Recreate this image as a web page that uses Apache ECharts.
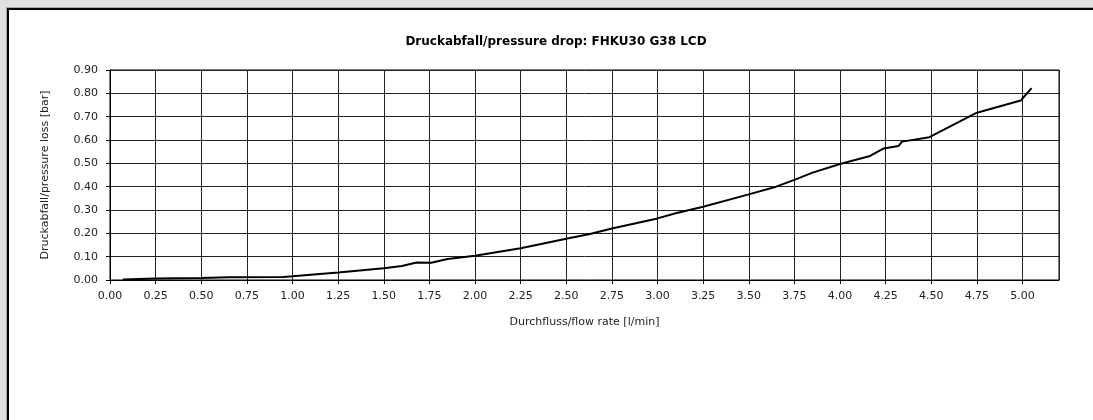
<!DOCTYPE html>
<html>
<head>
<meta charset="utf-8">
<script src="https://cdn.jsdelivr.net/npm/echarts@6/dist/echarts.min.js"></script>
<style>
  html, body { margin: 0; padding: 0; width: 1093px; height: 420px; overflow: hidden; background: #e0e0e0; }
  #frame { position: absolute; left: 7px; top: 8px; width: 1100px; height: 430px; background: #fff;
           border-left: 2px solid #000; border-top: 2px solid #000; box-shadow: -1px -1px 0 #a8a8a8; }
  #chart { position: absolute; left: 0; top: 0; width: 1093px; height: 420px; }
</style>
</head>
<body>
<div id="frame"></div>
<div id="chart"></div>
<script>
const titleText = 'Druckabfall/pressure drop: FHKU30 G38 LCD';
const xAxisName = 'Durchfluss/flow rate [l/min]';
const yAxisName = 'Druckabfall/pressure loss [bar]';

const flowRate = [0.07, 0.25, 0.5, 0.65, 0.95, 1.0, 1.25, 1.5, 1.6, 1.68, 1.76, 1.85, 2.0, 2.25, 2.5, 2.63, 2.75, 3.0, 3.1, 3.25, 3.5, 3.65, 3.75, 3.85, 4.0, 4.16, 4.24, 4.32, 4.34, 4.49, 4.75, 4.99, 5.05];
const pressureLoss = [0.002, 0.006, 0.009, 0.012, 0.013, 0.016, 0.032, 0.050, 0.060, 0.075, 0.074, 0.090, 0.104, 0.136, 0.177, 0.197, 0.221, 0.264, 0.286, 0.314, 0.367, 0.400, 0.429, 0.460, 0.497, 0.530, 0.564, 0.574, 0.593, 0.612, 0.717, 0.769, 0.822];

const seriesData = flowRate.map((x, i) => [x, pressureLoss[i]]);
const fontFam = '"DejaVu Sans", sans-serif';

const chart = echarts.init(document.getElementById('chart'), null, { renderer: 'canvas' });
chart.setOption({
  backgroundColor: 'transparent',
  animation: false,
  title: {
    text: titleText,
    left: 551, top: 31, textAlign: 'center',
    textStyle: { fontFamily: fontFam, fontSize: 12, fontWeight: 'bold', color: '#000' }
  },
  grid: { left: 110, top: 70, width: 949, height: 210, show: true, borderColor: '#000', borderWidth: 1, backgroundColor: 'transparent' },
  xAxis: {
    type: 'value', min: 0, max: 5.2, interval: 0.25,
    name: xAxisName, nameLocation: 'middle', nameGap: 37,
    nameTextStyle: { fontFamily: fontFam, fontSize: 11, color: '#222' },
    axisLine: { show: true, lineStyle: { color: '#000', width: 1 } },
    axisTick: { show: true, length: 4, lineStyle: { color: '#000' } },
    axisLabel: { fontFamily: fontFam, fontSize: 11, color: '#222', margin: 11, showMaxLabel: false,
      formatter: v => v > 5.001 ? '' : v.toFixed(2) },
    splitLine: { show: true, lineStyle: { color: '#222', width: 1 } }
  },
  yAxis: {
    type: 'value', min: 0, max: 0.9, interval: 0.1,
    name: yAxisName, nameLocation: 'middle', nameGap: 59,
    nameTextStyle: { fontFamily: fontFam, fontSize: 11, color: '#222' },
    axisLine: { show: true, lineStyle: { color: '#000', width: 1 } },
    axisTick: { show: true, length: 4, lineStyle: { color: '#000' } },
    axisLabel: { fontFamily: fontFam, fontSize: 11, color: '#222', margin: 12, formatter: v => v.toFixed(2) },
    splitLine: { show: true, lineStyle: { color: '#222', width: 1 } }
  },
  series: [{
    type: 'line', data: seriesData, showSymbol: false, smooth: false,
    lineStyle: { color: '#000', width: 2 }, itemStyle: { color: '#000' }
  }]
});
</script>
</body>
</html>
